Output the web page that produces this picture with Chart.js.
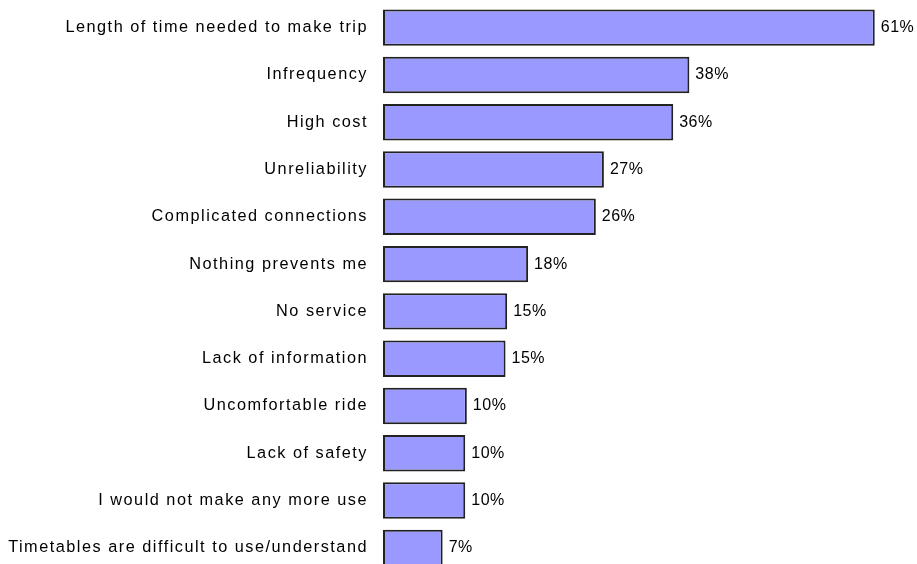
<!DOCTYPE html>
<html>
<head>
<meta charset="utf-8">
<script src="https://cdn.jsdelivr.net/npm/chart.js@4.4.1/dist/chart.umd.min.js"></script>
<style>
  html, body { margin: 0; padding: 0; background: #fff; overflow: hidden; }
  #wrap { width: 917px; height: 564px; overflow: hidden; }
</style>
</head>
<body>
<div id="wrap"><canvas id="c" width="917" height="572"></canvas></div>
<script>
const categories = [
  'Length of time needed to make trip',
  'Infrequency',
  'High cost',
  'Unreliability',
  'Complicated connections',
  'Nothing prevents me',
  'No service',
  'Lack of information',
  'Uncomfortable ride',
  'Lack of safety',
  'I would not make any more use',
  'Timetables are difficult to use/understand'
];
const values = [61, 38, 36, 27.4, 26.4, 18, 15.4, 15.2, 10.4, 10.2, 10.2, 7.4];
const valueLabels = ['61%', '38%', '36%', '27%', '26%', '18%', '15%', '15%', '10%', '10%', '10%', '7%'];

const FONT = '"Liberation Sans", Arial, sans-serif';

const spacingPlugin = {
  id: 'spacing',
  beforeDraw(chart) { chart.ctx.letterSpacing = '1.5px'; }
};

const valueLabelPlugin = {
  id: 'valueLabels',
  afterDatasetsDraw(chart) {
    const ctx = chart.ctx;
    const meta = chart.getDatasetMeta(0);
    ctx.save();
    ctx.letterSpacing = '0.5px';
    ctx.font = '16px ' + FONT;
    ctx.fillStyle = '#000';
    ctx.textAlign = 'left';
    ctx.textBaseline = 'middle';
    meta.data.forEach((bar, i) => {
      ctx.fillText(valueLabels[i], bar.x + 6, bar.y);
    });
    ctx.restore();
  }
};

new Chart(document.getElementById('c'), {
  type: 'bar',
  data: {
    labels: categories,
    datasets: [{
      data: values,
      backgroundColor: '#9999FF',
      borderColor: '#222222',
      borderWidth: 2,
      borderSkipped: false,
      categoryPercentage: 1,
      barPercentage: 0.77
    }]
  },
  options: {
    indexAxis: 'y',
    responsive: false,
    animation: false,
    devicePixelRatio: 1,
    layout: { padding: { top: 4, right: 10, bottom: 0.5, left: 0 } },
    plugins: { legend: { display: false }, tooltip: { enabled: false } },
    scales: {
      x: { display: false, min: 0, max: 65 },
      y: {
        grid: { display: false, drawTicks: false },
        border: { display: false },
        ticks: { color: '#000', font: { family: FONT, size: 16.3 }, padding: 15 },
        afterFit(scale) {
          scale.width = 383;
          scale.paddingTop = 0;
          scale.paddingBottom = 0;
        }
      }
    }
  },
  plugins: [spacingPlugin, valueLabelPlugin]
});
</script>
</body>
</html>
